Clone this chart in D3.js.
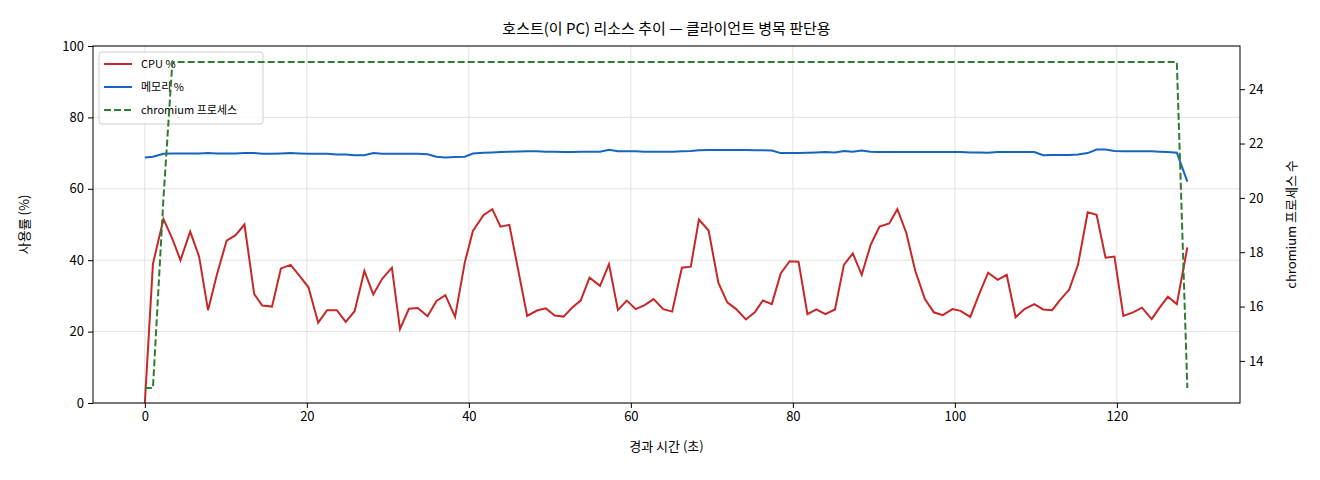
<!DOCTYPE html>
<html><head><meta charset="utf-8">
<script src="https://cdn.jsdelivr.net/npm/d3@7/dist/d3.min.js"></script>
<style>body{margin:0;background:#fff}text{font-family:"Noto Sans CJK KR","Noto Sans",sans-serif}</style>
</head><body><svg id="c" width="1320" height="480"></svg>
<script>
const times=[0,1.0,2.3,3.4,4.4,5.6,6.7,7.8,8.9,10.1,11.2,12.3,13.5,14.5,15.7,16.8,18.0,19.1,20.2,21.4,22.5,23.7,24.8,25.9,27.1,28.2,29.3,30.5,31.5,32.6,33.7,34.9,36.0,37.1,38.3,39.5,40.5,41.8,42.9,43.9,45.0,47.2,48.4,49.5,50.6,51.7,52.8,53.8,54.9,56.2,57.3,58.4,59.5,60.6,61.7,62.8,64.0,65.1,66.3,67.4,68.4,69.6,70.8,71.9,73.0,74.2,75.3,76.3,77.4,78.5,79.6,80.7,81.8,82.9,84.0,85.2,86.3,87.4,88.5,89.6,90.7,91.9,92.9,94.0,95.1,96.3,97.4,98.5,99.7,100.7,101.9,103.0,104.1,105.3,106.4,107.5,108.6,109.8,110.9,112.0,113.0,114.1,115.2,116.4,117.5,118.6,119.7,120.8,122.0,123.1,124.3,125.3,126.3,127.4,128.7];
const cpu=[0,39,51.5,46,40,48,41,26,36,45.5,47,50,30.5,27.3,27,37.7,38.7,35.6,32.4,22.5,26,26,22.7,25.7,37,30.4,34.8,37.9,20.7,26.4,26.6,24.3,28.6,30.2,24.1,39.4,48.2,52.6,54.3,49.4,49.9,24.4,25.9,26.5,24.5,24.2,26.8,28.7,35.1,32.8,38.9,26.1,28.7,26.3,27.4,29.1,26.3,25.6,37.9,38.2,51.4,48.3,33.7,28.2,26.3,23.4,25.4,28.7,27.7,36.3,39.7,39.6,24.9,26.2,24.9,26.2,38.7,41.9,35.9,44.3,49.4,50.3,54.3,47.7,37.1,29.1,25.4,24.6,26.3,25.8,24.1,30.5,36.5,34.5,35.9,24.0,26.3,27.7,26.2,26.0,28.9,31.7,38.7,53.4,52.7,40.7,41.0,24.4,25.4,26.7,23.5,26.8,29.8,27.7,43.6];
const mem=[68.8,69.0,69.8,69.9,69.9,69.9,69.9,70.0,69.9,69.9,69.9,70.0,70.0,69.8,69.8,69.9,70.0,69.9,69.8,69.8,69.8,69.6,69.6,69.4,69.4,70.0,69.8,69.8,69.8,69.8,69.8,69.7,69.0,68.8,68.9,69.0,69.9,70.1,70.2,70.3,70.4,70.5,70.5,70.4,70.4,70.3,70.3,70.4,70.4,70.4,70.9,70.5,70.5,70.5,70.4,70.4,70.4,70.4,70.5,70.6,70.8,70.9,70.9,70.9,70.9,70.9,70.8,70.8,70.7,70.0,70.0,70.0,70.1,70.2,70.3,70.2,70.6,70.4,70.7,70.4,70.3,70.3,70.3,70.3,70.3,70.3,70.3,70.3,70.3,70.3,70.2,70.2,70.1,70.3,70.3,70.3,70.3,70.3,69.4,69.5,69.5,69.5,69.6,70.0,71.0,71.0,70.6,70.5,70.5,70.5,70.5,70.4,70.3,70.1,62.0];
const chromium=[13,13,20,25,25,25,25,25,25,25,25,25,25,25,25,25,25,25,25,25,25,25,25,25,25,25,25,25,25,25,25,25,25,25,25,25,25,25,25,25,25,25,25,25,25,25,25,25,25,25,25,25,25,25,25,25,25,25,25,25,25,25,25,25,25,25,25,25,25,25,25,25,25,25,25,25,25,25,25,25,25,25,25,25,25,25,25,25,25,25,25,25,25,25,25,25,25,25,25,25,25,25,25,25,25,25,25,25,25,25,25,25,25,25,13];
const xTicks=[0,20,40,60,80,100,120], yTicks=[0,20,40,60,80,100], y2Ticks=[14,16,18,20,22,24];
const L=93,R=1240,T=46,B=403;
const svg=d3.select("#c");
const x=d3.scaleLinear().domain([-6.4,135.2]).range([L,R]);
const y=d3.scaleLinear().domain([0,100]).range([B,T]);
const y2=d3.scaleLinear().domain([12.45,25.59]).range([B,T]);
const g=svg.append("g");
g.selectAll(".gx").data(xTicks).join("line").attr("x1",d=>x(d)).attr("x2",d=>x(d)).attr("y1",T).attr("y2",B).attr("stroke","#e3e3e3");
g.selectAll(".gy").data(yTicks).join("line").attr("y1",d=>y(d)).attr("y2",d=>y(d)).attr("x1",L).attr("x2",R).attr("stroke","#e3e3e3");
const lg=svg.append("g");
lg.append("rect").attr("x",99).attr("y",52).attr("width",164).attr("height",72).attr("rx",3).attr("fill","#fff").attr("fill-opacity",0.8).attr("stroke","#d0d0d0");
const items=[["CPU %","#c62828",null],["메모리 %","#1565c0",null],["chromium 프로세스","#2e7d32","7,3"]];
items.forEach((it,i)=>{const yy=64+i*23;
lg.append("line").attr("x1",104).attr("x2",132).attr("y1",yy).attr("y2",yy).attr("stroke",it[1]).attr("stroke-width",2).attr("stroke-dasharray",it[2]);
lg.append("text").attr("x",141).attr("y",yy+4).attr("font-size","11px").text(it[0]);});
const idx=d3.range(times.length);
const mk=(arr,sc)=>d3.line().x(i=>x(times[i])).y(i=>sc(arr[i]));
svg.append("path").attr("d",mk(cpu,y)(idx)).attr("fill","none").attr("stroke","#c62828").attr("stroke-width",2);
svg.append("path").attr("d",mk(mem,y)(idx)).attr("fill","none").attr("stroke","#1565c0").attr("stroke-width",2);
svg.append("path").attr("d",mk(chromium,y2)(idx)).attr("fill","none").attr("stroke","#2e7d32").attr("stroke-width",2).attr("stroke-dasharray","7,3");
svg.append("rect").attr("x",L).attr("y",T).attr("width",R-L).attr("height",B-T).attr("fill","none").attr("stroke","#000");
const fs="13px";
const ax=svg.append("g").attr("transform",`translate(0,${B})`).call(d3.axisBottom(x).tickValues(xTicks).tickSize(5).tickPadding(4));
const ay=svg.append("g").attr("transform",`translate(${L},0)`).call(d3.axisLeft(y).tickValues(yTicks).tickSize(5).tickPadding(4));
const ay2=svg.append("g").attr("transform",`translate(${R},0)`).call(d3.axisRight(y2).tickValues(y2Ticks).tickSize(5).tickPadding(4));
[ax,ay,ay2].forEach(a=>{a.select(".domain").remove();a.selectAll("text").attr("font-size",fs).attr("fill","#000").style("font-family","'Noto Sans CJK KR',sans-serif");});
svg.append("text").attr("x",(L+R)/2).attr("y",34).attr("text-anchor","middle").attr("font-size","15px").text("호스트(이 PC) 리소스 추이 — 클라이언트 병목 판단용");
svg.append("text").attr("x",(L+R)/2).attr("y",451).attr("text-anchor","middle").attr("font-size","13px").text("경과 시간 (초)");
svg.append("text").attr("transform",`translate(29,${(T+B)/2}) rotate(-90)`).attr("text-anchor","middle").attr("font-size","13px").text("사용률 (%)");
svg.append("text").attr("transform",`translate(1296,${(T+B)/2}) rotate(-90)`).attr("text-anchor","middle").attr("font-size","13px").text("chromium 프로세스 수");
</script></body></html>
